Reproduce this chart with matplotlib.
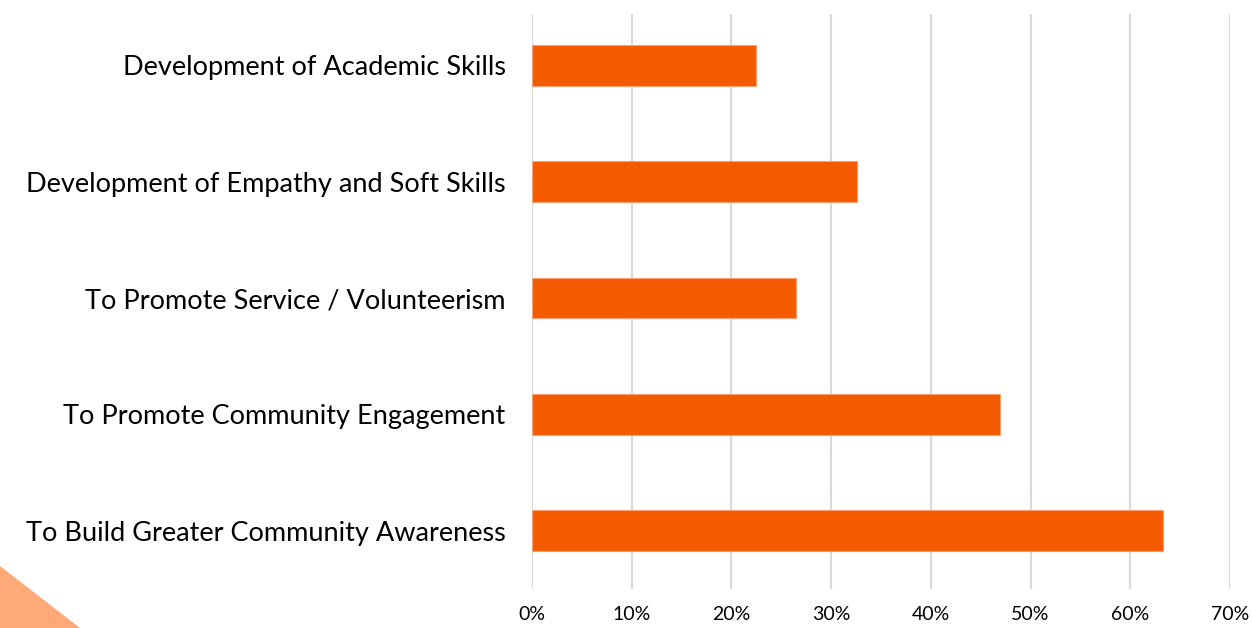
import matplotlib
matplotlib.use("Agg")
import matplotlib.pyplot as plt
from matplotlib.patches import Polygon

# survey reasons and share of responses
categories = [
    "To Build Greater Community Awareness",
    "To Promote Community Engagement",
    "To Promote Service / Volunteerism",
    "Development of Empathy and Soft Skills",
    "Development of Academic Skills",
]
shares = [0.633, 0.469, 0.265, 0.326, 0.225]
xticks = [0, 0.1, 0.2, 0.3, 0.4, 0.5, 0.6, 0.7]
xtick_labels = ["0%", "10%", "20%", "30%", "40%", "50%", "60%", "70%"]

plt.rcParams['font.family'] = ['Lato', 'DejaVu Sans']

fig = plt.figure(figsize=(12.52, 6.28), dpi=100)
ax = fig.add_axes([532 / 1252, 39 / 628, (1230 - 532) / 1252, (589 - 14) / 628])

ax.barh(range(len(categories)), shares, height=0.35, color="#F45B00",
        edgecolor="#F8A070", linewidth=0.8, zorder=3)

ax.set_xlim(0, 0.7)
ax.set_ylim(-0.5, len(categories) - 0.56)
ax.set_xticks(xticks)
ax.set_xticklabels(xtick_labels, fontsize=14)
ax.set_yticks(range(len(categories)))
ax.set_yticklabels(categories, fontsize=19.5)
ax.tick_params(axis="x", length=0, pad=12)
ax.tick_params(axis="y", length=0, pad=19)
ax.grid(axis="x", color="#D9D9D9", linewidth=1.5, zorder=0)
for s in ax.spines.values():
    s.set_visible(False)

# decorative corner triangle
tri = Polygon([[0, 0], [0, 62 / 628], [80 / 1252, 0]], closed=True,
              transform=fig.transFigure, facecolor="#FFA878", edgecolor="none")
fig.patches.append(tri)

fig.savefig("out.png", dpi=100)
